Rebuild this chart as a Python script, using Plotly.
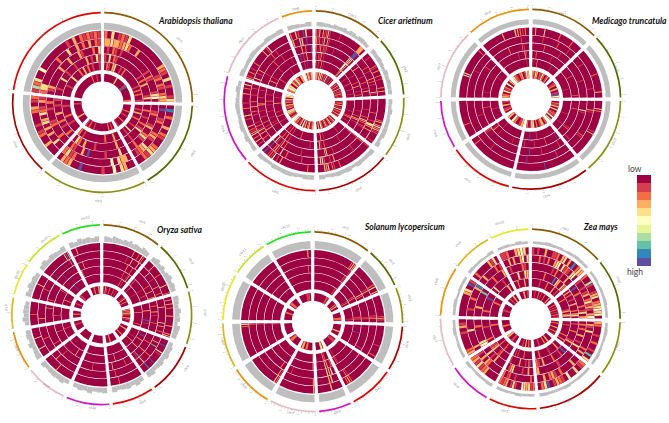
import plotly.graph_objects as go
from math import sin,cos,radians

W, H = 669, 423
PALETTE = ["#9E0142","#D53E4F","#F46D43","#FDAE61","#FEE08B","#FFFFBF","#E6F598","#ABDDA4","#66C2A5","#3288BD","#5E4FA2"]
CHR_COLORS = ["#8B5A00","#556B00","#8E8E14","#A80000","#E00000","#D014C4","#E8BAC4","#E8920E","#DDB51E","#E8E82A","#C4E62A","#22E022"]
LEVELS = "0123456789a"

SPECIES = ["Arabidopsis thaliana","Cicer arietinum","Medicago truncatula","Oryza sativa","Solanum lycopersicum","Zea mays"]
TITLE_LEFT = [158,378,592,157,364,583]
TITLE_MID = [20.5,20.5,20.5,230,227,227]
CENTERS = [(102.5,102.5),(314,100.8),(530.7,99.3),(101.7,314.7),(312.7,321.7),(530.3,318.9)]
TICK_STEP = [14,5.2,5,5,2.2,8.7]
STRIPE_FRAC = [0.85,0.55,0.45,0.45,0.5,0.85]
INNER_FRAC = [0.85,1,0.9,0.6,0.6,0.85]

ARA_EDGES = [0,91,151,221,277,360]
CIC_EDGES = [0,47,87,128,178,228,287,338,360]
MED_EDGES = [0,46,90,141,193,237,270,317,360]
ORY_EDGES = [0,40,74,110,145,174,204,233,260,282,305,333,360]
SOL_EDGES = [0,39,67,92,123,154,177,209,239,270,302,328,360]
ZEA_EDGES = [0,50,91,128,175,208,238,271,305,333,360]

# one string of coverage levels per ring (outer to inner), one block per chromosome
ARA_HEAT = [
 ["204012140000000000032104010014","334332342003000000000120210243","010210100000000000102100001450","104021000000000000102030000140","00000004000001900000002"],
 ["0902003021002341200","0a00120002310043210","0012000130024100200","0020010020140000100","0000200100020001"],
 ["00340500100000a003230","03340500000000002142","0040000100000a0300120","0030000000100030240","010200000000100201"],
 ["000300210100023012","004003030430421031","002000210001020","020010200300101","000300000010"],
 ["17240050000000001030212121","24400000000200040030203021","0130000003000300031000204","001000400100010000301041","0000000000000000200100"],
]
CIC_HEAT = [
 ["2140312410000010000000000003330","3120140310000000000000000aaa0","2013021200001000000000004540","102130100000000000000005540","3421515030120510a10020"],
 ["00100000210300201000020300","00000020010000302010000410","00300000010002000103000","00000100000200300010020","02103010401020130102"],
 ["0000000000000240353412000010","0000000020000104430300000","00000010000204320210000","00000000100020340100000","0120301040210301"],
 ["10000000000000000200120434000","20000010000000000301002540","10000000000000001000430000","10000000100000000020140","0310420131025030"],
 ["00020000000000000301051210a0","00000010000000200401320a0","0000000100000000020310140","00100000000000001030200","3104203150410214"],
 ["0103020431203000104000200100003002040","002003041020100001020030020001000100","00000301002000100010003200010000100","0000020100010000100001002000010000","20134502130213045"],
 ["31020100200000030140000000000","04001030000000000200100000000","00000010000000020000010000000","00030010000000100000000000100","2540314203"],
 ["20310a400","300740a00","00030200a","0a0103000","5143125"],
]
MED_HEAT = [
 ["03000400000020000020000","00000100000002000001000","000000200000000100000","002000000000100000000","3143021520130"],
 ["0000000000020000000300","0000100000000000010000","000000000001000000000","000000200000000000020","0120301a5"],
 ["0004200000000130000000000","0000310000000000021000000","000051000000000000010","000020000000000120000","0213040121504"],
 ["0000000000000a000000000000","000001000000000000a000","00100000000100000a0000","0a000000200000010000010","2033102045102"],
 ["00000000000000000000200","000000000000100000000","0000000000000000000012","0000100000000001000310","3102503"],
 ["0000020000000000","0000000000000000","0000000100000000","0000000000020000","0210301"],
 ["0000000000540000000000020","0000000000000010000000000","0000000000000000000200000","0001000000000000000000","3204120503"],
 ["0000000030000432120","0000000000000001000","0000000020000002100","0000000000001000410","4210230153"],
]
ORY_HEAT = [
 ["0000000000000000030020420","0000000000000100400040","00000000000000300200","00000000000000200130","03102002010"],
 ["0003000020000040002","0000400010000300020","0000000000200040003","0300000000100002000","00130200"],
 ["03030200030000300034","00004000000004030020","0020030100020000","0000300000901000","32420310"],
 ["00a0041000a00900","0030800002000400","0000200003000810","0090030000400000","030020"],
 ["0000000000020000","0000000000002000","0000200000000400","0000000000400000","0020"],
 ["0000000000000000","0000000000000000","0000000020000000","0000000000000000","0000"],
 ["0000000030000000","0000000000003000","0000000000020000","0000400000000000","0000"],
 ["0000400000400000","0000000020000000","0020000000000000","0000000003000000","0010"],
 ["00000020000000","00030000000000","00000000000300","00000300000000","020"],
 ["00000000400000","00000002000000","02000000000000","00000000000030","010"],
 ["00000000000000493","00a000000000000030","000000a00000000000","000000000a00000000","100"],
 ["00300000000000","00000000000000","0003000000000000","20000000000000","0203"],
]
SOL_HEAT = [
 ["00000000000000000000243","000000000000000000001","00000000000000000000021","0000000000000000000001","000000000000321"],
 ["0000000002403","0000000001300","0000000000420","0000000002300","00230"],
 ["0000000000002420","0000000000012300","0000000000001200","0000000000011200","02"],
 ["0000000001000020","0000000000000000","0000000000000010","00000a0000000000","0030"],
 ["0000000000002320","0000000000001200","0000000000000000","0000000000000120","10"],
 ["00030000","00430000","05340000","20340000","40"],
 ["3000000000000000","3000000000000000","0000000000000100","2000000000000000","023"],
 ["2400000000000000","1300000000000000","0030000000000000","0000000000000000","02"],
 ["0000000000000024","0000000000000002","0000000000000001","0000000000000000","00"],
 ["0000000000000000","0000000000000000","0000000000000000","0000000000000000","0020"],
 ["0000000000000000","0000000000000000","0000000000000000","0000000000000000","20"],
 ["0000000000000030","0000000000000000","0000000000000020","0000000000000000","01"],
]
ZEA_HEAT = [
 ["1010030011203403090243","0002010200345041210450","000000000010200100300","000000020000090430042","0010020100200030"],
 ["200710013402345450","1001013024131035","0a00200000201403","030200100300020340","0020102010201"],
 ["3200010020010804","0310400000002030","02020030010400","01000200001300","0200300201"],
 ["2104005012310a420","0030000201320300","0000010000003","0a01000200003012","0030200100"],
 ["2143450014103212","0200000001002102","00300100004310","0a2010003000001","02030100"],
 ["00003214132","00000230301","00003010400","00002100421","0103"],
 ["320000010310","0300000040000","5400000200","02000001000","00200"],
 ["0000000340a1","001000200039","00030000080","00200000a00","00100"],
 ["02000003140","00300000201","0000200003","040000100","01030"],
 ["1120034540","00303003504","010000210","00040043","00301"],
]
# fifth outer ring, just outside the gap before the inner ring
ARA_RING5 = ["0210340010200000000010202001","0010300200010040100","0030002000000000102","0001002000100","0000100040002030201001"]
CIC_RING5 = ["10200301000000000000000340","00010000200001000100","0000000010002300100","00000100000000010300","00000000200000102010","0001000200100000300010000","00000200000000100000","0010a000"]
MED_RING5 = ["00030000000000100000","00000000000100000","00000000100000010000","00000000001000a000","00000000000010000","0000000100000","00000000000000100000","00000000000000010"]
ORY_RING5 = ["00000000000000030200","00200000010000000","00003000000020","00000100300000","00000000000","0000000000000","000000000000","000000020000","0000000000","000300000","0000a000000","00000000000"]
SOL_RING5 = ["0000000000000000021","00000000120","0000000000120","00000000000000","0000000000010","00230000","2000000000000","0000000000000","00000000000001","000000000000","00000000000","0000000000000"]
ZEA_RING5 = ["00000100002000030010","0002000000130240","00100000020020","0030000100000200","000000200001010","00002000200","000000200","000000200","0000030","002000300"]
HEAT = [ARA_HEAT,CIC_HEAT,MED_HEAT,ORY_HEAT,SOL_HEAT,ZEA_HEAT]
RING5 = [ARA_RING5,CIC_RING5,MED_RING5,ORY_RING5,SOL_RING5,ZEA_RING5]
EDGES = [ARA_EDGES,CIC_EDGES,MED_EDGES,ORY_EDGES,SOL_EDGES,ZEA_EDGES]

# grey density track: height levels per chromosome
ARA_GREY = ["9"]*5
CIC_GREY = ["77665766757757765","7676576766","6575667757","76675767657","77567767567","6575765676575","756765767","7657"]
MED_GREY = ["8"]*8
ORY_GREY = ["87698768796876987","7968579687","8769785987","6879687698","7968768","8769786","6978768","8769687","697876","869786","7968768","8697868"]
SOL_GREY = ["9"]*12
ZEA_GREY = ["5565545655","55455655","5654565","5546556","556455","65546","55465","56455","65546","55465"]
GREY = [ARA_GREY,CIC_GREY,MED_GREY,ORY_GREY,SOL_GREY,ZEA_GREY]

RINGS = [(64.3,71.7),(56.8,63.7),(49,56.2),(41,48.4),(32.5,40.4),(21,28.7)]
GREY_BASE = [73,74.5,75,73,73,75]
GREY_UNIT = [0.75,0.65,0.62,0.7,0.85,0.55]
CHR_RADIUS = (89,90.7)
PAD_PX = 1.6
DEG = 57.2958
SPAN = 95

fig = go.Figure()
annotations = []
layout_polar = {}
for p,(name,(cx,cy)) in enumerate(zip(SPECIES,CENTERS)):
    subplot = "polar" if p==0 else f"polar{p+1}"
    edges = EDGES[p]
    th,wd,rr,bb,cc = [],[],[],[],[]
    def add(t,w,r0,r1,c):
        th.append(t);wd.append(w);bb.append(r0);rr.append(r1-r0);cc.append(c)
    for i,block in enumerate(HEAT[p]):
        a0,a1 = edges[i],edges[i+1]
        rings = block[:4]+[RING5[p][i]]+block[4:]
        for q,((r0,r1),s) in enumerate(zip(RINGS,rings)):
            frac = INNER_FRAC[p] if q==5 else STRIPE_FRAC[p]
            pad = PAD_PX/((r0+r1)/2)*DEG
            lo,hi = a0+pad,a1-pad
            step=(hi-lo)/len(s)
            add((lo+hi)/2,hi-lo,r0,r1,PALETTE[0])
            j=0
            while j<len(s):
                k=j
                while k<len(s) and s[k]==s[j]: k+=1
                if s[j]!="0":
                    add(lo+(j+k)/2*step,(k-j-1+frac)*step,r0,r1,PALETTE[LEVELS.index(s[j])])
                j=k
        s=GREY[p][i]
        pad=PAD_PX*1.6/77*DEG
        lo,hi=a0+pad,a1-pad
        step=(hi-lo)/len(s)
        for j,h in enumerate(s):
            add(lo+(j+.5)*step,step*1.02,GREY_BASE[p],GREY_BASE[p]+int(h)*GREY_UNIT[p],"#BEBEBE")
        pad=PAD_PX*1.1/90*DEG
        add((a0+a1)/2,a1-a0-2*pad,CHR_RADIUS[0],CHR_RADIUS[1],CHR_COLORS[i])
    tick_th,tick_txt=[],[]
    for i in range(len(edges)-1):
        a0,a1=edges[i],edges[i+1]
        pad=PAD_PX*1.1/90*DEG
        t=a0+pad; n=0
        while t<=a1-pad:
            add(t,0.3,CHR_RADIUS[1],CHR_RADIUS[1]+(1.6 if n%2==0 else 0.9),"#B0B0B0")
            if n%(2 if TICK_STEP[p]>=5 else 5)==0:
                tick_th.append(t);tick_txt.append(str(n*5))
            t+=TICK_STEP[p]; n+=1
        mid=(a0+a1)/2
        rot = mid-180 if 90<mid<270 else mid
        annotations.append(dict(text=f"chr{i+1}",x=(cx+99*sin(radians(mid)))/W,y=1-(cy-99*cos(radians(mid)))/H,
            xref="paper",yref="paper",showarrow=False,textangle=rot,font=dict(size=3.5,color="#888",family="Lato")))
    fig.add_trace(go.Barpolar(subplot=subplot,theta=th,width=wd,r=rr,base=bb,marker=dict(color=cc,line=dict(width=0)),hoverinfo="skip",showlegend=False))
    fig.add_trace(go.Scatterpolar(subplot=subplot,theta=tick_th,r=[94]*len(tick_th),text=tick_txt,mode="text",textfont=dict(size=2.4,color="#AAA"),hoverinfo="skip",showlegend=False))
    layout_polar[subplot]=dict(domain=dict(x=[(cx-SPAN)/W,(cx+SPAN)/W],y=[1-(cy+SPAN)/H,1-(cy-SPAN)/H]),
        bgcolor="rgba(0,0,0,0)",barmode="overlay",
        radialaxis=dict(visible=False,range=[0,SPAN]),
        angularaxis=dict(visible=False,direction="clockwise",rotation=90,thetaunit="degrees"))
    annotations.append(dict(text=f"<b><i>{name}</i></b>",x=TITLE_LEFT[p]/W,y=1-TITLE_MID[p]/H,xref="paper",yref="paper",xshift=-2,
        xanchor="left",yanchor="middle",showarrow=False,font=dict(size=8.5,color="#111",family="Lato")))

LEGEND_LEVELS = [10,9,8,7,6,5,4,3,2,1,0]
fig.add_trace(go.Heatmap(z=[[v] for v in LEGEND_LEVELS],zmin=0,zmax=10,showscale=False,hoverinfo="skip",xaxis="x",yaxis="y",
    colorscale=[[k/10,c] for k,c in enumerate(PALETTE)],xgap=0,ygap=0))
annotations.append(dict(text="low",x=644/W,y=1-169/H,xref="paper",yref="paper",showarrow=False,font=dict(size=8.5,color="#444",family="Lato")))
annotations.append(dict(text="high",x=644.5/W,y=1-272/H,xref="paper",yref="paper",showarrow=False,font=dict(size=8.5,color="#444",family="Lato")))

fig.update_layout(width=W,height=H,margin=dict(l=0,r=0,t=0,b=0),paper_bgcolor="white",plot_bgcolor="white",showlegend=False,
    annotations=annotations,
    xaxis=dict(domain=[637/W,651/W],visible=False),
    yaxis=dict(domain=[1-266/H,1-175/H],visible=False),
    **layout_polar)
fig.write_html("out.html",post_script="document.body.style.margin='0';document.documentElement.style.overflow='hidden';",config={"displayModeBar":False})
